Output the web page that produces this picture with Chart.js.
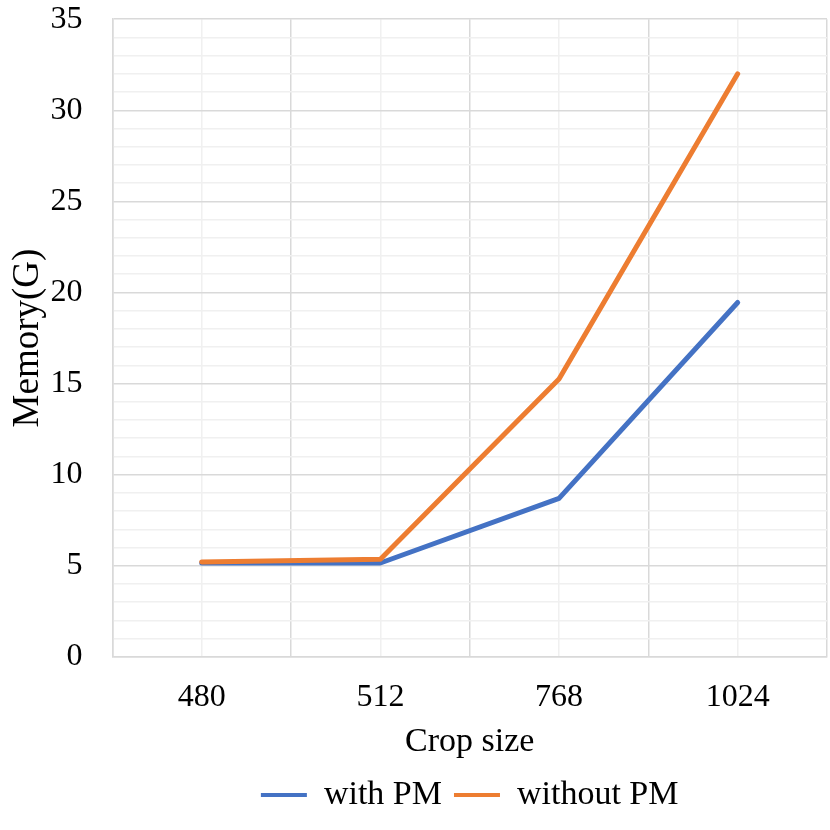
<!DOCTYPE html>
<html>
<head>
<meta charset="utf-8">
<script src="https://cdn.jsdelivr.net/npm/chart.js@4/dist/chart.umd.min.js"></script>
<style>
  html, body { margin: 0; padding: 0; background: #fff; }
  #wrap { width: 830px; height: 830px; }
</style>
</head>
<body>
<div id="wrap"><canvas id="memChart"></canvas></div>
<script>
// memory vs crop size

const cropSizes  = ["480", "512", "768", "1024"];
const withPM     = [5.15, 5.15, 8.7, 19.45];
const withoutPM  = [5.2, 5.35, 15.25, 32.0];
const yMax       = 35;

const FONT = "'Liberation Serif', 'Times New Roman', serif";

const ctx = document.getElementById("memChart").getContext("2d");
const memChart = new Chart(ctx, {
  type: "line",
  data: {
    labels: cropSizes,
    datasets: [
      {
        label:           "with PM",
        data:            withPM,
        borderColor:     "#4472C4",
        backgroundColor: "#4472C4",
        borderWidth:     5,
        borderCapStyle:  "round",
        borderJoinStyle: "round",
        pointRadius:     0,
        tension:         0,
        order:           2,
      },
      {
        label:           "without PM",
        data:            withoutPM,
        borderColor:     "#ED7D31",
        backgroundColor: "#ED7D31",
        borderWidth:     5,
        borderCapStyle:  "round",
        borderJoinStyle: "round",
        pointRadius:     0,
        tension:         0,
        order:           1,
      },
    ]
  },
  options: {
    responsive:          true,
    maintainAspectRatio: false,
    animation:           false,
    layout: { padding: { top: 0, right: 3, left: 6, bottom: 8 } },
    plugins: {
      tooltip: { enabled: false },
      legend: {
        position: "bottom",
        fullSize: false,
        labels: {
          font:      { family: FONT, size: 34 },
          color:     "#000",
          boxWidth:  46,
          boxHeight: 4,
          padding:   12,
          sort:      (a, b) => a.datasetIndex - b.datasetIndex,
          generateLabels: (chart) => {
            const items = Chart.defaults.plugins.legend.labels.generateLabels(chart);
            items.forEach(it => { it.lineWidth = 0; });
            return items;
          },
        },
      },
    },
    scales: {
      x: {
        offset: true,
        grid:   { offset: true, color: "#d9d9d9", lineWidth: 1.5, drawTicks: false },
        border: { display: true, color: "#d9d9d9", width: 1.5 },
        ticks:  { font: { family: FONT, size: 32 }, color: "#000", padding: 22 },
        title:  { display: true, text: "Crop size", font: { family: FONT, size: 34 }, color: "#000", padding: { top: 0, bottom: 4 } },
        afterFit: (scale) => { scale.height -= 18; },
      },
      x2: {
        type:   "category",
        labels: cropSizes,
        offset: true,
        position: "bottom",
        grid:   { offset: false, color: "#f0f0f0", lineWidth: 1.5, drawTicks: false },
        border: { display: false },
        ticks:  { display: false },
      },
      y: {
        min: 0,
        max: yMax,
        grid: {
          color:     (c) => (c.tick && c.tick.value % 5 === 0) ? "#d9d9d9" : "#f0f0f0",
          lineWidth: 1.5,
          drawTicks: false,
        },
        border: { display: true, color: "#d9d9d9", width: 1.5 },
        ticks: {
          stepSize:      1,
          autoSkip:      false,
          maxTicksLimit: 50,
          padding:       30,
          font:          { family: FONT, size: 32 },
          color:         "#000",
          callback:      (v) => (v % 5 === 0 ? String(v) : ""),
        },
        title: { display: true, text: "Memory(G)", font: { family: FONT, size: 37 }, color: "#000", padding: { top: 0, bottom: 0 } },
        // tick padding is also added above/below the axis, take it back
        afterFit: (scale) => {
          scale.width -= 30;
          scale.paddingTop -= 30;
          scale.paddingBottom -= 30;
        },
      },
    }
  }
});
</script>
</body>
</html>
